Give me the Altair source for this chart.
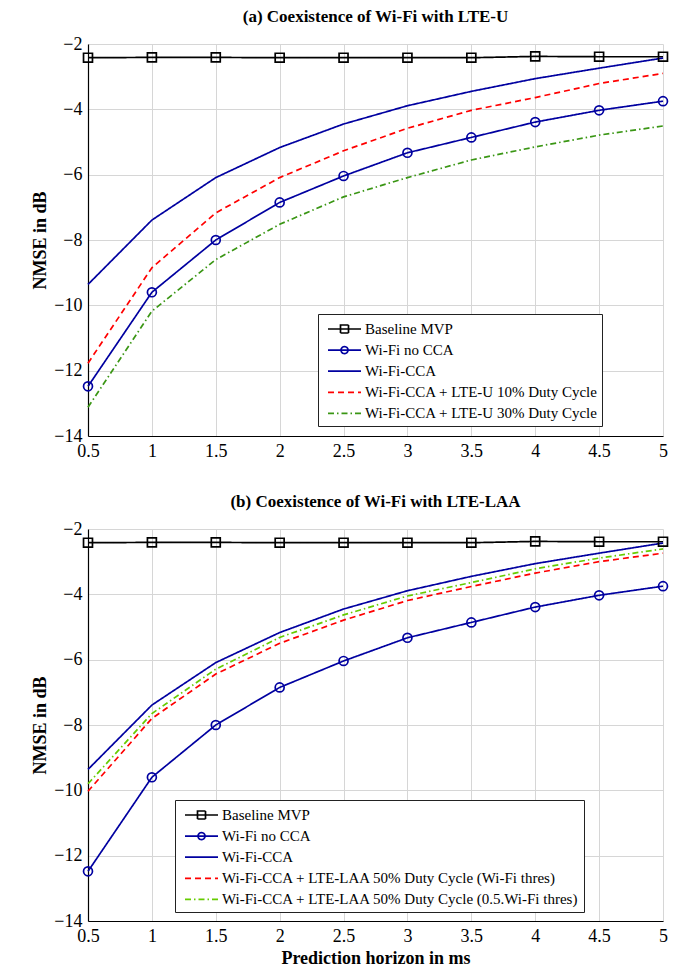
import altair as alt
import pandas as pd

horizon = [0.5, 1.0, 1.5, 2.0, 2.5, 3.0, 3.5, 4.0, 4.5, 5.0]
y_ticks = [-14, -12, -10, -8, -6, -4, -2]

baseline_mvp = [-2.42, -2.41, -2.41, -2.42, -2.42, -2.42, -2.42, -2.38, -2.39, -2.39]
wifi_no_cca = [-12.48, -9.60, -8.00, -6.85, -6.04, -5.33, -4.86, -4.39, -4.03, -3.75]
wifi_cca = [-9.36, -7.39, -6.09, -5.17, -4.45, -3.89, -3.45, -3.06, -2.74, -2.43]
lteu_10 = [-11.77, -8.85, -7.17, -6.09, -5.27, -4.58, -4.03, -3.64, -3.21, -2.90]
lteu_30 = [-13.12, -10.18, -8.60, -7.52, -6.68, -6.09, -5.55, -5.15, -4.79, -4.51]
laa_wifi = [-10.03, -7.80, -6.44, -5.50, -4.79, -4.19, -3.76, -3.35, -3.00, -2.74]
laa_half = [-9.80, -7.65, -6.29, -5.32, -4.63, -4.05, -3.64, -3.22, -2.89, -2.61]

names_a = ["Baseline MVP", "Wi-Fi no CCA", "Wi-Fi-CCA",
           "Wi-Fi-CCA + LTE-U 10% Duty Cycle", "Wi-Fi-CCA + LTE-U 30% Duty Cycle"]
names_b = ["Baseline MVP", "Wi-Fi no CCA", "Wi-Fi-CCA",
           "Wi-Fi-CCA + LTE-LAA 50% Duty Cycle (Wi-Fi thres)",
           "Wi-Fi-CCA + LTE-LAA 50% Duty Cycle (0.5.Wi-Fi thres)"]
values_a = [baseline_mvp, wifi_no_cca, wifi_cca, lteu_10, lteu_30]
values_b = [baseline_mvp, wifi_no_cca, wifi_cca, laa_wifi, laa_half]
colors_a = ["#000000", "#0000a0", "#0000a0", "#ff0000", "#3a9614"]
colors_b = ["#000000", "#0000a0", "#0000a0", "#ff0000", "#66cc00"]
dashes = [[1, 0], [1, 0], [1, 0], [6, 4], [6, 3, 1.5, 3]]
markers = ["square", "circle", "none", "none", "none"]

SERIF = "Liberation Serif, DejaVu Serif, serif"
LINE_PATH = "M-0.5,0H2.8"
SYMBOL_PATHS = {
    "square": LINE_PATH + "M0.75,-0.4H1.55V0.4H0.75Z",
    "circle": LINE_PATH + "M1.5,0A0.35,0.35,0,1,1,0.8,0A0.35,0.35,0,1,1,1.5,0Z",
    "none": LINE_PATH,
}


def panel(title, names, values, colors, legend_x, legend_y, x_title):
    rows = []
    for n, vals, m in zip(names, values, markers):
        for h, v in zip(horizon, vals):
            rows.append({"h": h, "v": v, "series": n, "marker": m})
    df = pd.DataFrame(rows)

    expr = "'" + SYMBOL_PATHS["none"] + "'"
    for n, m in zip(names, markers):
        if m != "none":
            expr = f"datum.value === '{n}' ? '{SYMBOL_PATHS[m]}' : " + expr

    x = alt.X("h:Q", scale=alt.Scale(domain=[0.5, 5], nice=False, zero=False),
              axis=alt.Axis(values=horizon, title=x_title, labelFlush=False,
                            labelExpr="format(datum.value, '~g')"))
    y = alt.Y("v:Q", scale=alt.Scale(domain=[-14, -2], nice=False, zero=False),
              axis=alt.Axis(values=y_ticks, title="NMSE in dB",
                            labelExpr="replace(format(datum.value, 'd'), '-', '\u2212')"))
    color_scale = alt.Scale(domain=names, range=colors)

    lines = alt.Chart(df).mark_line(strokeWidth=1.7).encode(
        x=x, y=y,
        color=alt.Color("series:N", scale=color_scale, sort=names,
                        legend=alt.Legend(
                            title=None, orient="none", legendX=legend_x, legendY=legend_y,
                            direction="vertical",
                            strokeColor="#222222", fillColor="white", padding=4,
                            cornerRadius=0, symbolSize=400, symbolStrokeWidth=1.7,
                            symbolType=alt.ExprRef(expr=expr),
                            symbolFillColor="transparent",
                            labelFont=SERIF, labelFontSize=15, labelColor="black",
                            labelOffset=21, labelLimit=600, rowPadding=2.1)),
        strokeDash=alt.StrokeDash("series:N", sort=names,
                                  scale=alt.Scale(domain=names, range=dashes)),
    )
    pts = alt.Chart(df).transform_filter("datum.marker !== 'none'").mark_point(
        filled=False, size=80, strokeWidth=1.7, opacity=1
    ).encode(
        x=x, y=y,
        color=alt.Color("series:N", scale=color_scale, legend=None),
        shape=alt.Shape("marker:N", scale=alt.Scale(domain=["square", "circle"],
                                                    range=["square", "circle"]),
                        legend=None),
    )
    return alt.layer(lines, pts).properties(
        width=575, height=392,
        title=alt.TitleParams(title, font=SERIF, fontSize=17, fontWeight="bold",
                              color="black", anchor="middle", frame="group", offset=9),
    )


top = panel("(a) Coexistence of Wi-Fi with LTE-U", names_a, values_a, colors_a,
            230, 270, None)
bottom = panel("(b) Coexistence of Wi-Fi with LTE-LAA", names_b, values_b, colors_b,
               87, 271, "Prediction horizon in ms")

chart = alt.vconcat(top, bottom, spacing=33).resolve_scale(
    color="independent", strokeDash="independent", shape="independent"
).resolve_legend(
    color="independent", strokeDash="independent", shape="independent"
).configure(font=SERIF).configure_view(stroke=None).configure_axis(
    domainColor="black", domainWidth=1.2, gridColor="#d6d6d6", gridWidth=1,
    ticks=False, labelPadding=6,
    labelFont=SERIF, labelFontSize=18, labelColor="black",
    titleFont=SERIF, titleFontSize=18, titleFontWeight="bold", titleColor="black",
).properties(
    padding={"left": 23, "top": 0, "right": 5, "bottom": 5},
    background="white",
)

chart.save("out.html", embed_options={"renderer": "svg", "actions": False})
